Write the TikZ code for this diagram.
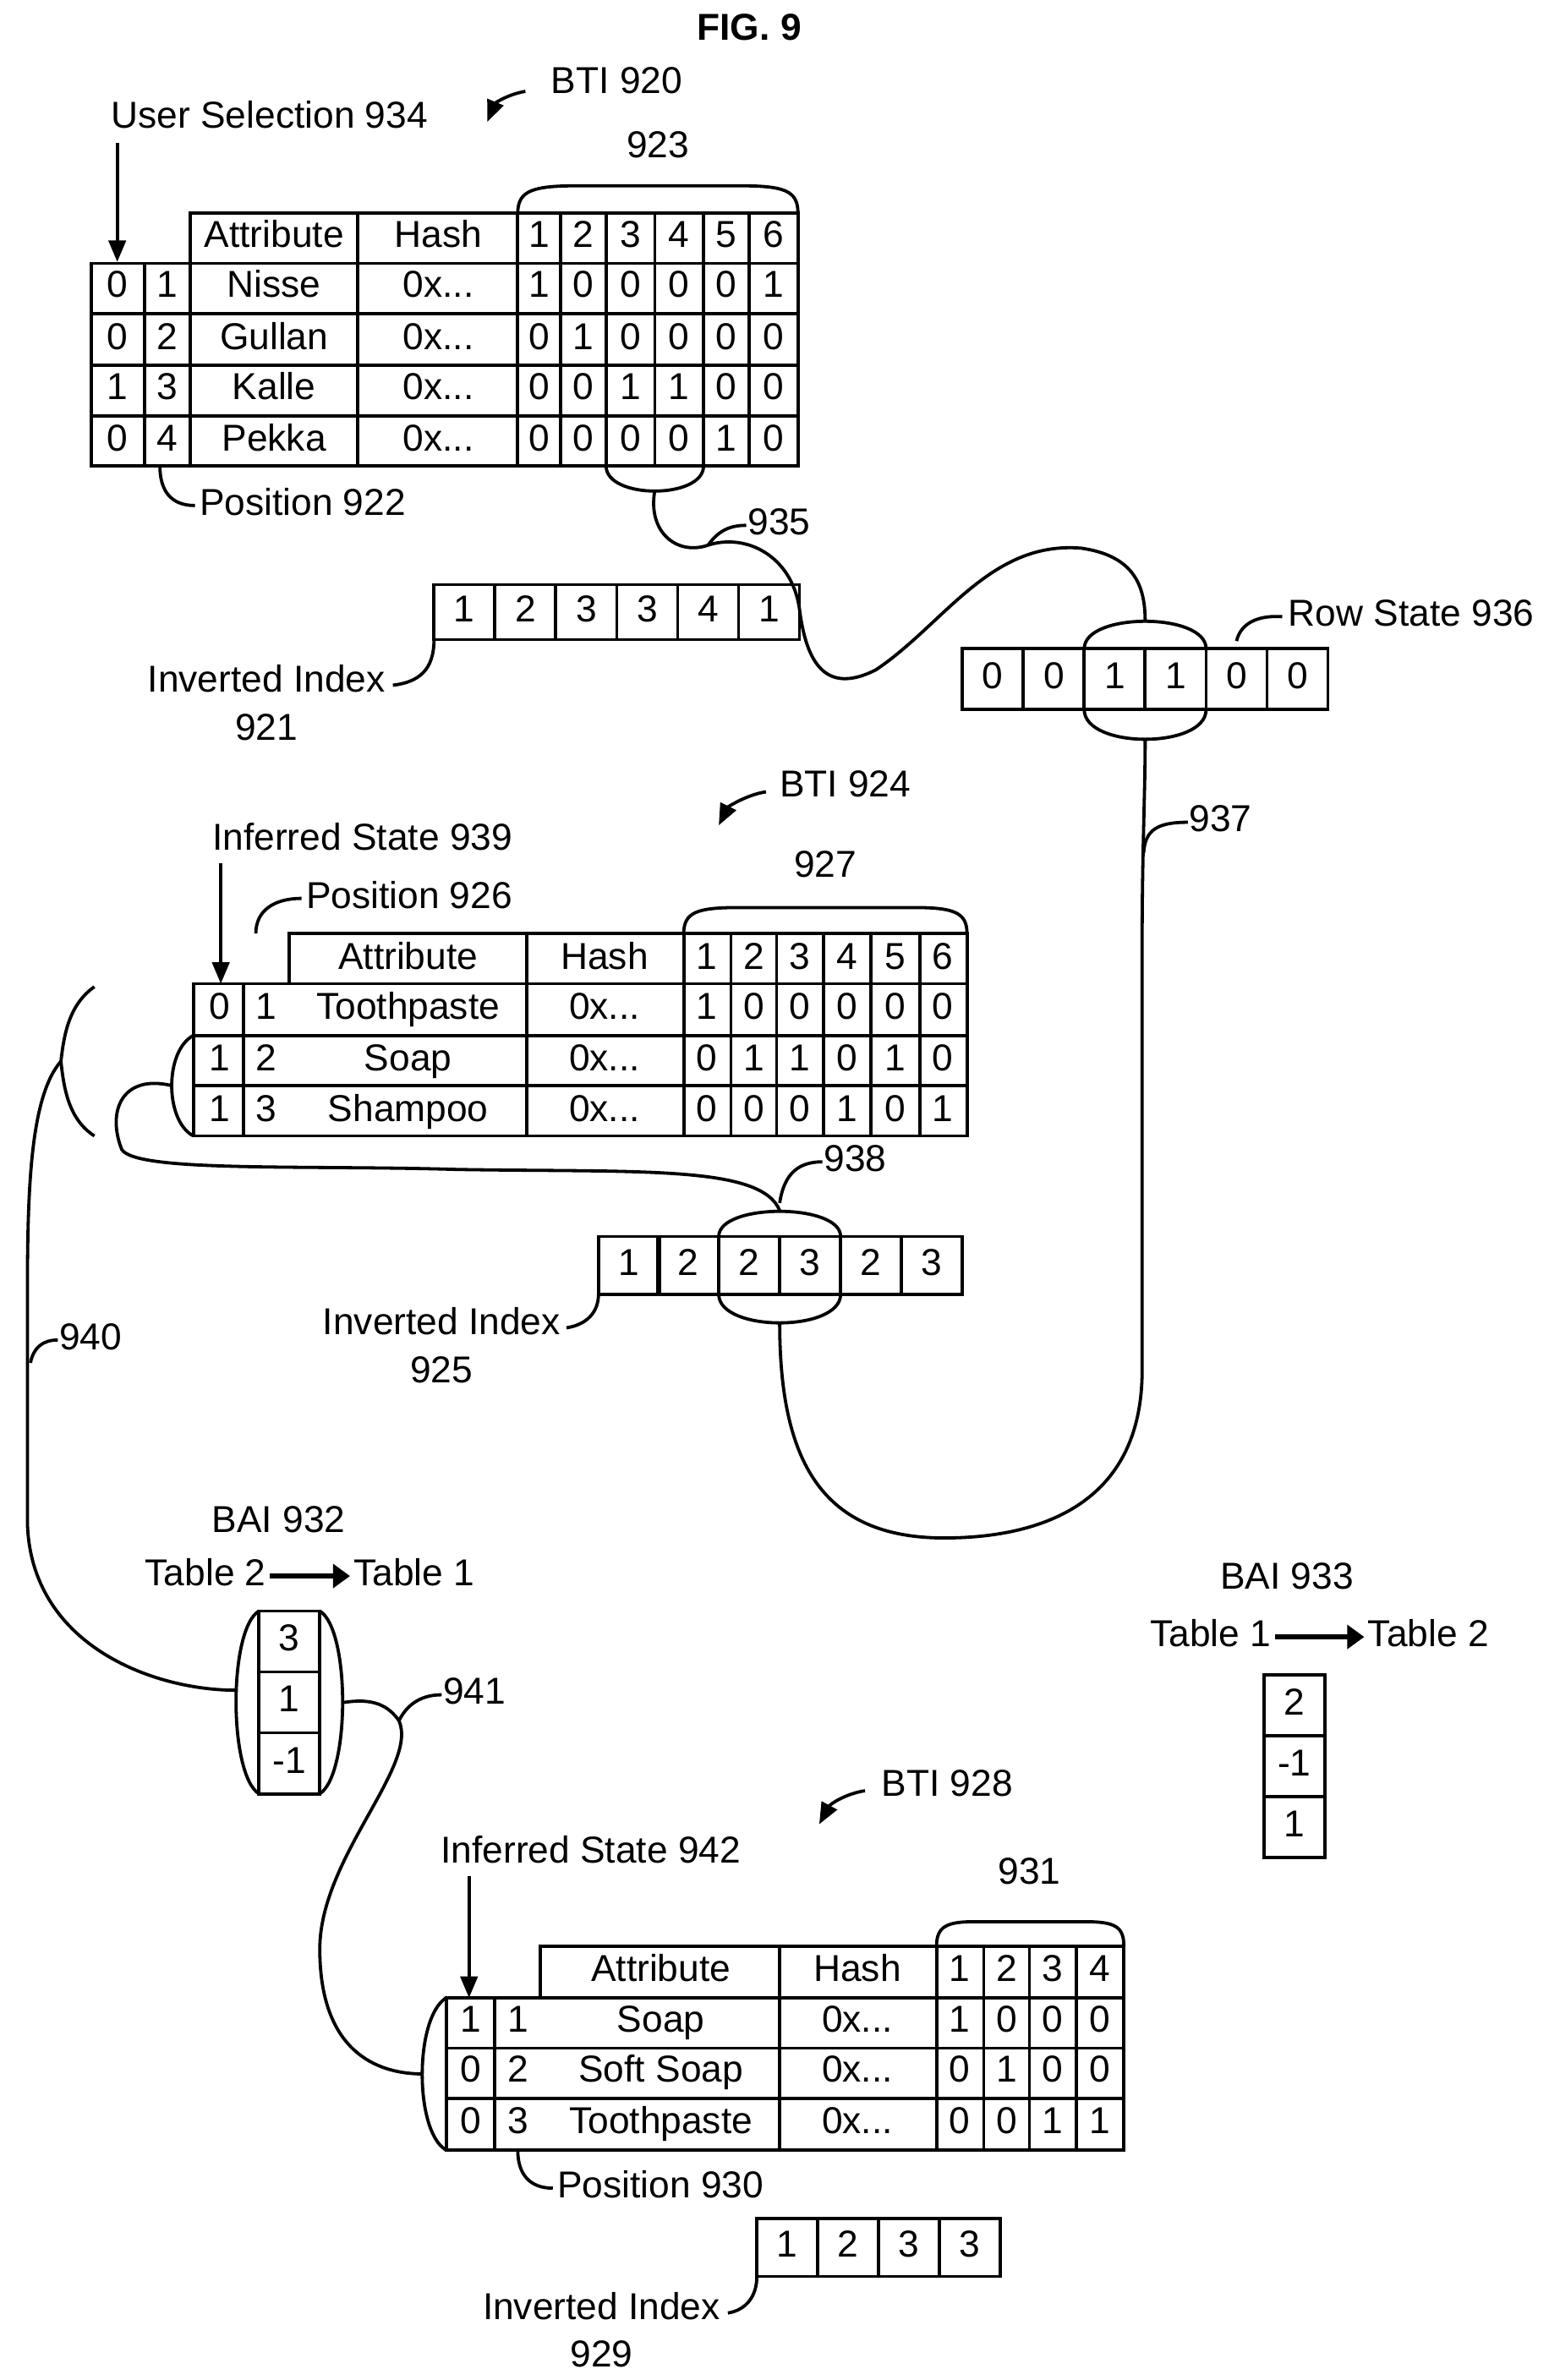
\documentclass[tikz,border=0pt]{standalone}
\usepackage{fontspec}
\setmainfont{Liberation Sans}
\usetikzlibrary{arrows.meta}
\begin{document}
\begin{tikzpicture}[x=0.05cm,y=-0.05cm,line width=3pt,
  every node/.style={font=\fontsize{35}{40}\selectfont,inner sep=0pt,text height=25pt,text depth=7pt},
  arr/.style={-{Triangle[length=20pt,width=16pt]}},
  barr/.style={line width=5pt,-{Triangle[length=16pt,width=22pt]},shorten <=2pt,shorten >=2pt}]
\useasboundingbox (0,0) rectangle (1024,1563);
\node[font=\fontsize{35}{40}\selectfont\bfseries] (fig) at (492,20) {FIG. 9};
% ===== BTI 920 =====
\node (bti920) at (405,55) {BTI 920};
\draw[arr] (345,60) .. controls (333,62) and (325,68) .. (320,80);
\node (us934) at (177,78) {User Selection 934};
\coordinate (us) at (77,94);
\draw[arr] (us) -- (77,172);
\draw (60,173) rectangle (524,306) (125,140) rectangle (524,173);
\foreach \y in {206,240,273} \draw (60,\y) -- (524,\y);
\foreach \x in {95,125} \draw (\x,173) -- (\x,306);
\foreach \x in {235,340,368,398,430,462,492} \draw (\x,140) -- (\x,306);
\node at (180,156) {Attribute}; \node at (288,156) {Hash};
\foreach \v [count=\i] in {354,383,414,446,477,508} \node at (\v,156) {\i};
\foreach \y/\a/\b/\n/\bits in {189/0/1/Nisse/{1,0,0,0,0,1},223/0/2/Gullan/{0,1,0,0,0,0},256/1/3/Kalle/{0,0,1,1,0,0},290/0/4/Pekka/{0,0,0,0,1,0}}{
  \node at (77,\y) {\a}; \node at (110,\y) {\b}; \node at (180,\y) {\n}; \node at (288,\y) {0x...};
  \foreach \v [count=\i] in \bits {\pgfmathsetmacro\xx{{354,383,414,446,477,508}[\i-1]}\node at (\xx,\y) {\v};}
}
\draw (340,140) .. controls (340,125) and (350,122) .. (380,122) -- (485,122) .. controls (515,122) and (524,125) .. (524,140);
\node (l923) at (432,97) {923};
\draw (398,306) .. controls (398,328) and (462,328) .. (462,306);
\draw (105,306) .. controls (105,322) and (112,332) .. (128,332);
\node[anchor=west] (p922) at (130,332) {Position 922};
% inverted index 921
\foreach \x/\v in {285/1,325/2,365/3,405/3,445/4,485/1} {\draw (\x,384) rectangle ++(40,36); \node at (\x+20,402) {\v};}
\node (ii921) at (175,448) {Inverted Index};
\node at (175,480) {921};
\draw (258,450) .. controls (275,448) and (285,440) .. (285,420);
% row state 936
\foreach \x/\v in {632/0,672/0,712/1,752/1,792/0,832/0} {\draw (\x,426) rectangle ++(40,40); \node at (\x+20,446) {\v};}
\draw (712,426) .. controls (712,402) and (792,402) .. (792,426);
\draw (712,466) .. controls (712,492) and (792,492) .. (792,466);
\node[anchor=west] (rs936) at (845,405) {Row State 936};
\draw (812,421) .. controls (815,408) and (828,404) .. (842,405);
% 935
\draw (430,322) .. controls (425,350) and (445,365) .. (465,358) .. controls (490,350) and (520,365) .. (525,400) .. controls (530,440) and (545,455) .. (575,440) .. controls (620,410) and (650,355) .. (710,360) .. controls (745,365) and (752,385) .. (752,408);
\draw (465,358) .. controls (472,348) and (480,345) .. (490,345);
\node[anchor=west] (l935) at (490,345) {935};
% 937
\draw (752,486) .. controls (752,520) and (750,560) .. (750,620) -- (750,900) .. controls (750,990) and (680,1010) .. (620,1010) .. controls (540,1010) and (512,960) .. (512,869);
\draw (751,560) .. controls (752,545) and (760,540) .. (780,540);
\node[anchor=west] (l937) at (780,540) {937};
% ===== BTI 924 =====
\node (bti924) at (555,517) {BTI 924};
\draw[arr] (503,520) .. controls (490,522) and (478,530) .. (472,542);
\node (is939) at (238,552) {Inferred State 939};
\draw[arr] (145,567) -- (145,646);
\node[anchor=west] (p926) at (200,590) {Position 926};
\draw (168,613) .. controls (168,598) and (180,590) .. (198,590);
\draw (127,646) rectangle (635,746) (190,613) rectangle (635,646);
\foreach \y in {680,713} \draw (127,\y) -- (635,\y);
\foreach \x in {160} \draw (\x,646) -- (\x,746);
\foreach \x in {346,449,480,510,541,572,604} \draw (\x,613) -- (\x,746);
\node at (268,630) {Attribute}; \node at (397,630) {Hash};
\foreach \v [count=\i] in {464,495,525,556,588,619} \node at (\v,630) {\i};
\foreach \y/\a/\b/\n/\bits in {663/0/1/Toothpaste/{1,0,0,0,0,0},697/1/2/Soap/{0,1,1,0,1,0},730/1/3/Shampoo/{0,0,0,1,0,1}}{
  \node at (144,\y) {\a}; \node at (175,\y) {\b}; \node at (268,\y) {\n}; \node at (397,\y) {0x...};
  \foreach \v [count=\i] in \bits {\pgfmathsetmacro\xx{{464,495,525,556,588,619}[\i-1]}\node at (\xx,\y) {\v};}
}
\draw (449,613) .. controls (449,599) and (458,596) .. (485,596) -- (600,596) .. controls (626,596) and (635,599) .. (635,613);
\node (l927) at (542,570) {927};
\draw (127,680) .. controls (108,690) and (108,736) .. (127,746);
\draw (62,648) .. controls (45,660) and (42,680) .. (40,697) .. controls (42,715) and (45,735) .. (62,746);
% 938
\draw (113,713) .. controls (80,705) and (70,730) .. (80,755) .. controls (90,770) and (200,765) .. (300,768) .. controls (420,770) and (500,765) .. (512,795);
\draw (512,790) .. controls (515,770) and (525,763) .. (540,763);
\node[anchor=west] (l938) at (540,763) {938};
% inverted index 925
\foreach \x/\v in {393/1,432/2,472/2,512/3,552/2,592/3} {\draw (\x,812) rectangle ++(40,38); \node at (\x+20,831) {\v};}
\draw (472,812) .. controls (472,790) and (552,790) .. (552,812);
\draw (472,850) .. controls (472,875) and (552,875) .. (552,850);
\node (ii925) at (290,870) {Inverted Index};
\node at (290,902) {925};
\draw (372,872) .. controls (385,870) and (393,862) .. (393,850);
% 940
\draw (40,697) .. controls (20,720) and (18,780) .. (18,850) -- (18,1000) .. controls (20,1080) and (100,1110) .. (155,1110);
\draw (20,895) .. controls (22,885) and (28,880) .. (38,880);
\node[anchor=west] (l940) at (38,880) {940};
% ===== BAI 932 =====
\node (bai932) at (183,1000) {BAI 932};
\node (t2a) at (135,1035) {Table 2};
\node (t1a) at (272,1035) {Table 1};
\draw[barr] (t2a.east) -- (t1a.west);
\foreach \y/\v in {1058/3,1098/1,1138/-1} {\draw (170,\y) rectangle ++(40,40); \node at (190,\y+20) {\v};}
\draw (170,1058) .. controls (150,1070) and (150,1165) .. (170,1178);
\draw (210,1058) .. controls (230,1070) and (230,1165) .. (210,1178);
% 941
\draw (226,1118) .. controls (245,1115) and (255,1120) .. (262,1130) .. controls (275,1160) and (210,1220) .. (210,1280) .. controls (210,1340) and (240,1362) .. (278,1362);
\draw (262,1130) .. controls (268,1118) and (278,1113) .. (290,1113);
\node[anchor=west] (l941) at (290,1113) {941};
% ===== BAI 933 =====
\node (bai933) at (845,1037) {BAI 933};
\node (t1b) at (795,1075) {Table 1};
\node (t2b) at (938,1075) {Table 2};
\draw[barr] (t1b.east) -- (t2b.west);
\foreach \y/\v in {1100/2,1140/-1,1180/1} {\draw (830,\y) rectangle ++(40,40); \node at (850,\y+20) {\v};}
% ===== BTI 928 =====
\node (bti928) at (622,1173) {BTI 928};
\draw[arr] (568,1176) .. controls (555,1178) and (545,1185) .. (538,1198);
\node (is942) at (388,1217) {Inferred State 942};
\draw[arr] (308,1232) -- (308,1312);
\draw (293,1312) rectangle (738,1412) (355,1278) rectangle (738,1312);
\foreach \y in {1345,1378} \draw (293,\y) -- (738,\y);
\foreach \x in {325} \draw (\x,1312) -- (\x,1412);
\foreach \x in {512,615,646,676,707} \draw (\x,1278) -- (\x,1412);
\node at (434,1295) {Attribute}; \node at (563,1295) {Hash};
\foreach \v [count=\i] in {630,661,691,722} \node at (\v,1295) {\i};
\foreach \y/\a/\b/\n/\bits in {1328/1/1/Soap/{1,0,0,0},1361/0/2/Soft Soap/{0,1,0,0},1395/0/3/Toothpaste/{0,0,1,1}}{
  \node at (309,\y) {\a}; \node at (340,\y) {\b}; \node at (434,\y) {\n}; \node at (563,\y) {0x...};
  \foreach \v [count=\i] in \bits {\pgfmathsetmacro\xx{{630,661,691,722}[\i-1]}\node at (\xx,\y) {\v};}
}
\draw (615,1278) .. controls (615,1265) and (622,1262) .. (640,1262) -- (712,1262) .. controls (732,1262) and (738,1265) .. (738,1278);
\node (l931) at (676,1231) {931};
\draw (293,1312) .. controls (272,1325) and (272,1400) .. (293,1412);
\draw (340,1412) .. controls (340,1428) and (348,1437) .. (363,1437);
\node[anchor=west] (p930) at (365,1437) {Position 930};
\foreach \x/\v in {497/1,537/2,577/3,617/3} {\draw (\x,1457) rectangle ++(40,38); \node at (\x+20,1476) {\v};}
\node (ii929) at (395,1517) {Inverted Index};
\node at (395,1548) {929};
\draw (478,1519) .. controls (490,1517) and (497,1508) .. (497,1495);
\end{tikzpicture}
\end{document}
